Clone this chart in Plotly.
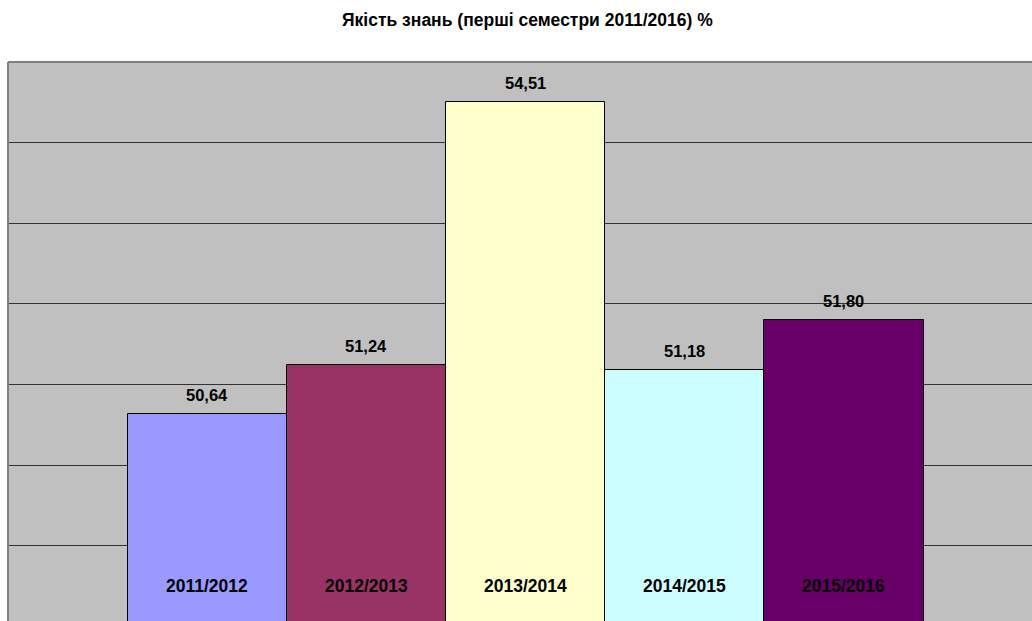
import plotly.graph_objects as go

title = "Якість знань (перші семестри 2011/2016) %"
categories = ["2011/2012", "2012/2013", "2013/2014", "2014/2015", "2015/2016"]
values = [50.64, 51.24, 54.51, 51.18, 51.80]
value_labels = ["50,64", "51,24", "54,51", "51,18", "51,80"]
colors = ["#9999FF", "#993366", "#FFFFCC", "#CCFFFF", "#660066"]

FONT = "Liberation Sans, Arial, sans-serif"

# body margin is removed below, so the figure fills the 1032x621 window
W, H = 1032, 621
ML, MT = 8, 62
PW, PH = W - ML, H - MT

fig = go.Figure()
fig.add_trace(go.Bar(
    x=categories,
    y=values,
    marker=dict(color=colors, line=dict(color="#000000", width=1)),
    width=1,
    hoverinfo="skip",
))

annotations = []
for c, v, lab in zip(categories, values, value_labels):
    annotations.append(dict(
        x=c, y=v, xref="x", yref="y", text="<b>%s</b>" % lab,
        showarrow=False, yanchor="bottom", yshift=8,
        font=dict(family=FONT, size=16.5, color="#000000"),
    ))
    annotations.append(dict(
        x=c, y=48.5, xref="x", yref="y", text="<b>%s</b>" % c,
        showarrow=False, yanchor="middle",
        font=dict(family=FONT, size=17.5, color="#000000"),
    ))
annotations.append(dict(
    x=(527 - ML) / PW, y=1 + (MT - 20) / PH, xref="paper", yref="paper",
    text="<b>%s</b>" % title, showarrow=False, xanchor="center", yanchor="middle",
    font=dict(family=FONT, size=17.5, color="#000000"),
))

fig.update_layout(
    width=W, height=H,
    margin=dict(l=ML, r=0, t=MT, b=0, pad=0),
    paper_bgcolor="#FFFFFF",
    plot_bgcolor="#C0C0C0",
    bargap=0,
    showlegend=False,
    hovermode=False,
    annotations=annotations,
    xaxis=dict(range=[-1.251, 5.181], showticklabels=False, showgrid=False,
               zeroline=False, ticks=""),
    yaxis=dict(range=[48.07, 55.0], dtick=1, tick0=48, showticklabels=False,
               showgrid=True, gridcolor="#333333", gridwidth=1, zeroline=False, ticks=""),
    shapes=[
        dict(type="line", xref="paper", yref="paper", x0=0, x1=1, y0=1, y1=1,
             line=dict(color="#808080", width=2)),
        dict(type="line", xref="paper", yref="paper", x0=0, x1=0, y0=0, y1=1,
             line=dict(color="#808080", width=2)),
    ],
)

fig.write_html(
    "out.html",
    config={"displayModeBar": False},
    post_script=("document.body.style.margin='0';"
                 "document.documentElement.style.overflow='hidden';"
                 "document.body.style.overflow='hidden';"),
)
